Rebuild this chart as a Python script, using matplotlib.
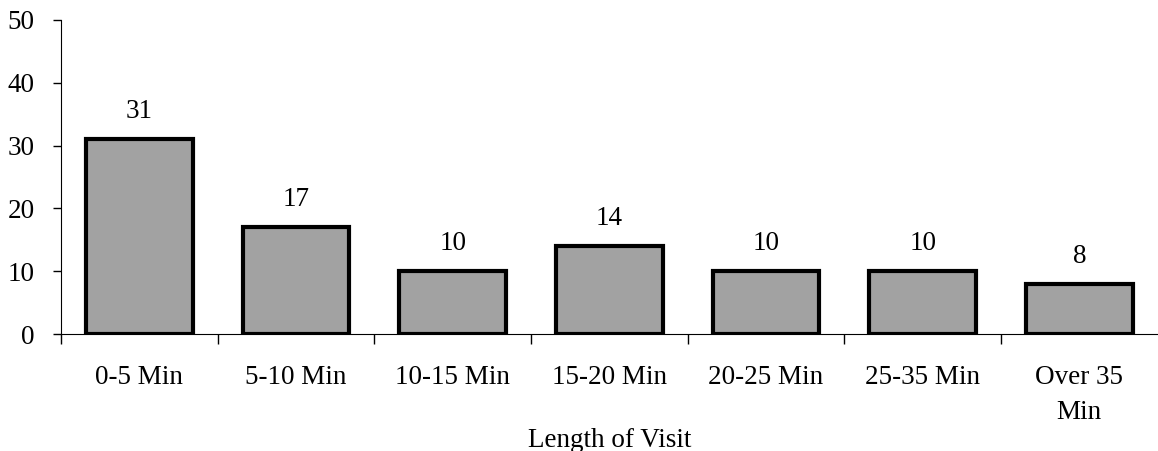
import matplotlib.pyplot as plt

plt.rcParams['font.family'] = ['Liberation Serif', 'DejaVu Serif']

categories = ['0-5 Min', '5-10 Min', '10-15 Min', '15-20 Min', '20-25 Min',
              '25-35 Min', 'Over 35\nMin']
visits = [31, 17, 10, 14, 10, 10, 8]

fig = plt.figure(figsize=(11.58, 4.51), dpi=100)
ax = fig.add_axes([0.0527, 0.259, 0.947, 0.697])

x = range(len(categories))
bars = ax.bar(x, visits, width=0.68, color='#a2a2a2', edgecolor='black', linewidth=3)

# value labels above each bar
for xi, v in zip(x, visits):
    ax.annotate(str(v), (xi, v), xytext=(0, 20), textcoords='offset points',
                ha='center', va='center', fontsize=19.5)

ax.set_xlim(-0.5, len(categories) - 0.5)
ax.set_ylim(0, 50)
ax.set_yticks([0, 10, 20, 30, 40, 50])
ax.tick_params(axis='y', labelsize=19.5, length=6, width=1, direction='out', pad=13)

# category labels centered, ticks between categories
ax.set_xticks(list(x))
ax.set_xticklabels(categories, fontsize=19.5, linespacing=1.55)
ax.tick_params(axis='x', which='major', length=0, pad=22)
ax.set_xticks([i - 0.5 for i in range(len(categories))], minor=True)
ax.tick_params(axis='x', which='minor', length=7, width=1, direction='out')

ax.set_xlabel('Length of Visit', fontsize=19.5, labelpad=2)

ax.spines['top'].set_visible(False)
ax.spines['right'].set_visible(False)

plt.savefig('out.png', dpi=100)
